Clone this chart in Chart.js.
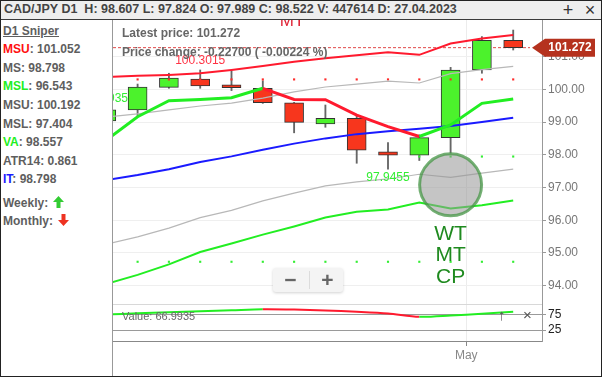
<!DOCTYPE html>
<html>
<head>
<meta charset="utf-8">
<title>CAD/JPY D1</title>
<script src="https://cdn.jsdelivr.net/npm/chart.js@4.4.1/dist/chart.umd.min.js"></script>
<style>
  html, body { margin: 0; padding: 0; background: #fff; }
  #frame { position: relative; width: 602px; height: 377px; overflow: hidden; background: #fff;
           font-family: "Liberation Sans", Arial, sans-serif; }
  #outline { position: absolute; left: 0; top: 0; width: 600px; height: 375px; border: 1px solid #222;
             pointer-events: none; z-index: 20; }
  #header { position: absolute; left: 0; top: 0; width: 602px; height: 19px; background: #eeeeee;
            border-bottom: 1px solid #3a3a3a; }
  #title { position: absolute; left: 4px; top: 2px; font-size: 12.5px; font-weight: bold; color: #444; white-space: pre; }
  .hbtn { position: absolute; top: 0; width: 16px; text-align: center; font-size: 18px; line-height: 20px; color: #333; }
  #side { position: absolute; left: 0; top: 20px; width: 113px; height: 357px; border-right: 1px solid #999;
          box-sizing: border-box; padding-top: 1.7px; }
  .row { margin-left: 3px; font-size: 12px; line-height: 18.6px; font-weight: bold; color: #5e5e5e; white-space: nowrap; }
  .row svg { vertical-align: -1px; margin-left: 2px; }
  #chart { position: absolute; left: 113px; top: 20px; }
  .info { position: absolute; left: 122px; font-size: 12px; line-height: 14px; font-weight: bold; color: #666; white-space: pre; z-index: 5; }
  #valueTxt { position: absolute; left: 122px; top: 310px; font-size: 11px; line-height: 13px; color: #666; z-index: 5; }
  .pbtn { position: absolute; top: 307px; font-size: 15px; line-height: 16px; color: #555; z-index: 5; }
  #zoomBox { position: absolute; left: 273px; top: 268px; width: 70px; height: 24px; background: #f4f4f4;
             border-radius: 3px; box-shadow: 0 1px 3px rgba(0,0,0,0.18); z-index: 5; }
  #zoomBox .zb { position: absolute; top: 0; width: 35px; text-align: center; font-size: 21px; line-height: 23px;
                 font-weight: bold; color: #666; }
  #zoomBox .sep { position: absolute; left: 36px; top: 3px; width: 1px; height: 18px; background: #dcdcdc; }
</style>
</head>
<body>
<div id="frame">
  <div id="header">
    <div id="title"></div>
    <span class="hbtn" style="left:560px">+</span>
    <span class="hbtn" style="left:582px">&#215;</span>
  </div>
  <div id="side"></div>
  <canvas id="chart" width="487" height="356"></canvas>
  <div class="info" id="latestTxt" style="top:26px"></div>
  <div class="info" id="changeTxt" style="top:45px"></div>
  <div id="valueTxt"></div>
  <span class="pbtn" style="left:498px">&#8593;</span>
  <span class="pbtn" style="left:523px">&#215;</span>
  <div id="zoomBox"><span class="zb" style="left:0">&#8722;</span><span class="sep"></span><span class="zb" style="left:37px">+</span></div>
  <div id="outline"></div>
</div>

<script>
// ---- data ----
const symbol = "CAD/JPY";
const timeframe = "D1";
const candleIdx = [0, 1, 2, 3, 4, 5, 6, 7, 8, 9, 10, 11, 12, 13];
const openVals  = [99.03, 99.37, 100.06, 100.31, 100.14, 100.03, 99.59, 98.94, 99.11, 98.09, 97.989, 98.52, 100.59, 101.499];
const highVals  = [99.45, 100.16, 100.49, 100.59, 100.56, 100.26, 99.60, 99.52, 99.21, 98.37, 98.607, 100.67, 101.61, 101.81];
const lowVals   = [98.95, 99.15, 100.03, 100.03, 99.96, 99.57, 98.67, 98.84, 97.74, 97.56, 97.824, 98.05, 100.49, 101.20];
const closeVals = [99.37, 100.07, 100.34, 100.10, 100.05, 99.59, 98.99, 99.11, 98.14, 97.99, 98.522, 100.59, 101.499, 101.272];
const volume = 447614;
const dateText = "27.04.2023";
const infoIdx = 10; // candle shown in the header and side panel

// bands
const msuUpper  = [100.38, 100.41, 100.44, 100.49, 100.59, 100.71, 100.84, 100.95, 101.04, 101.13, 101.052, 101.40, 101.55, 101.66];
const msuInner  = [99.15, 99.25, 99.37, 99.49, 99.58, 99.73, 99.92, 100.07, 100.16, 100.25, 100.192, 100.48, 100.60, 100.70];
const msMiddle  = [97.23, 97.38, 97.56, 97.78, 97.95, 98.15, 98.34, 98.50, 98.63, 98.72, 98.798, 98.88, 99.00, 99.13];
const mslInner  = [95.27, 95.49, 95.76, 96.08, 96.30, 96.59, 96.83, 97.05, 97.17, 97.26, 97.404, 97.31, 97.44, 97.56];
const mslLower  = [94.05, 94.33, 94.65, 95.03, 95.29, 95.56, 95.81, 96.08, 96.26, 96.33, 96.543, 96.36, 96.46, 96.60];
const vaLine    = [98.45, 99.16, 99.65, 99.69, 99.74, 100.03, 99.69, 99.68, 99.21, 98.86, 98.557, 98.91, 99.57, 99.70];

// dotted levels
const redLevel = 100.3015;
const redLevelIdx = [0, 1, 2, 3, 4, 5, 6, 7, 8, 9, 10, 11, 12, 13];
const greenLevel = 94.73;
const greenLevelIdx = [0, 1, 2, 3, 4, 5, 6, 7, 8, 9, 10, 11, 12, 13];
const midLevel = 97.9455;
const midLevelIdx = [10, 11, 12, 13];

// price labels on the chart
const levelLabelIdx = [0, 3, 9];
const levelLabelVal = [99.0935, 100.3015, 97.9455];

// marker circle
const circleIdx = 11;
const circleVal = 97.08;
const circleText = ["WT", "MT", "CP"];
const mtLabelIdx = 6;

// oscillator pane
const oscVals = [74, 78, 81.5, 85, 88, 91, 90, 87, 83, 77.5, 66.9935, 71, 77, 83];

// axes
const yTicks = [94, 95, 96, 97, 98, 99, 100, 101];
const y2Ticks = [25, 75];
const xTickPos = [11.5];
const xTickLabels = ["May"];

// side panel values
const sideNames  = ["MSU", "MS", "MSL", "MSU", "MSL", "VA", "ATR14", "IT"];
const sideValues = ["101.052", "98.798", "96.543", "100.192", "97.404", "98.557", "0.861", "98.798"];
const sideColors = ["#ff1010", null, "#22ee22", null, null, "#22ee22", null, "#1a1aff"];

// ---- colours ----
const GREEN = "#22ee22";
const RED = "#ff1a2e";
const BULL = "#4cf22c";
const BEAR = "#f7361d";

// ---- html text ----
const latest = closeVals[closeVals.length - 1];
const lastOpen = openVals[openVals.length - 1];
const chg = latest - lastOpen;

document.getElementById("title").textContent =
  symbol + " " + timeframe + "  H: " + highVals[infoIdx].toFixed(3) + " L: " + lowVals[infoIdx].toFixed(3) +
  " O: " + openVals[infoIdx].toFixed(3) + " C: " + closeVals[infoIdx].toFixed(3) +
  " V: " + volume + " D: " + dateText;
document.getElementById("latestTxt").textContent = "Latest price: " + latest.toFixed(3);
document.getElementById("changeTxt").textContent =
  "Price change: " + chg.toFixed(5) + " ( " + (chg / lastOpen).toFixed(5) + " %)";
document.getElementById("valueTxt").textContent = "Value: " + oscVals[infoIdx].toFixed(4);

const upArrow = '<svg width="11" height="12" viewBox="0 0 11 12"><path d="M5.5 0L11 6H7.5V12H3.5V6H0Z" fill="#33cc33"/></svg>';
const downArrow = '<svg width="11" height="12" viewBox="0 0 11 12"><path d="M5.5 12L11 6H7.5V0H3.5V6H0Z" fill="#ee3322"/></svg>';
let sideHtml = '<div class="row" style="text-decoration:underline">D1 Sniper</div>';
sideNames.forEach((n, i) => {
  const col = sideColors[i] ? ' style="color:' + sideColors[i] + '"' : "";
  sideHtml += '<div class="row"><span' + col + ">" + n + "</span>: " + sideValues[i] + "</div>";
});
sideHtml += '<div class="row" style="margin-top:4.8px">Weekly: ' + upArrow + "</div>";
sideHtml += '<div class="row">Monthly: ' + downArrow + "</div>";
document.getElementById("side").innerHTML = sideHtml;

// ---- chart ----
const pts = (vals) => candleIdx.map((i) => ({ x: i, y: vals[i] }));
const levelPts = (idx, v) => idx.map((i) => ({ x: i, y: v }));

const overlay = {
  id: "overlay",
  beforeDatasetsDraw(chart) {
    const { ctx, chartArea: a, scales: { y, y2 } } = chart;
    ctx.save();
    // pane separator
    ctx.strokeStyle = "#d8d8d8";
    ctx.lineWidth = 1;
    const ys = Math.round(y2.top) + 0.5;
    ctx.beginPath(); ctx.moveTo(a.left, ys); ctx.lineTo(a.right, ys); ctx.stroke();
    // latest price line
    const yp = y.getPixelForValue(latest);
    ctx.strokeStyle = "#e04848";
    ctx.setLineDash([3, 2]);
    ctx.beginPath(); ctx.moveTo(a.left, yp); ctx.lineTo(a.right - 12, yp); ctx.stroke();
    ctx.restore();
  },
  afterDatasetsDraw(chart) {
    const { ctx, chartArea: a, scales: { x, y } } = chart;
    ctx.save();
    ctx.beginPath(); ctx.rect(a.left, a.top, a.right - a.left, a.bottom - a.top); ctx.clip();
    ctx.textAlign = "center";
    ctx.textBaseline = "middle";
    ctx.font = '12px "Liberation Sans", Arial, sans-serif';
    const lblColor = ["#33ee33", "#ff3344", "#33ee33"];
    const lblShift = [-20, -19, 21];
    levelLabelIdx.forEach((i, k) => {
      ctx.fillStyle = lblColor[k];
      ctx.fillText(levelLabelVal[k].toFixed(4), x.getPixelForValue(i), y.getPixelForValue(levelLabelVal[k]) + lblShift[k]);
    });
    // MT tag at the top, mostly hidden under the header
    ctx.font = '17px "Liberation Sans", Arial, sans-serif';
    ctx.fillStyle = "#e02638";
    ctx.textBaseline = "alphabetic";
    ctx.fillText("MT", x.getPixelForValue(mtLabelIdx) - 2, a.top + 6);
    // WT / MT / CP under the circle
    ctx.font = '21px "Liberation Sans", Arial, sans-serif';
    ctx.fillStyle = "#1f8a1f";
    ctx.textBaseline = "middle";
    const cx = x.getPixelForValue(circleIdx);
    const cy = y.getPixelForValue(circleVal);
    circleText.forEach((t, k) => ctx.fillText(t, cx, cy + 49 + k * 21.5));
    ctx.restore();
  },
  afterDraw(chart) {
    const { ctx, chartArea: a, scales: { y } } = chart;
    const yp = y.getPixelForValue(latest);
    ctx.save();
    ctx.fillStyle = "#b5321e";
    ctx.beginPath();
    ctx.moveTo(a.right - 10, yp);
    ctx.lineTo(a.right + 3, yp - 9);
    ctx.lineTo(a.right + 53, yp - 9);
    ctx.lineTo(a.right + 53, yp + 9);
    ctx.lineTo(a.right + 3, yp + 9);
    ctx.closePath();
    ctx.fill();
    ctx.fillStyle = "#fff";
    ctx.font = 'bold 12px "Liberation Sans", Arial, sans-serif';
    ctx.textAlign = "center";
    ctx.textBaseline = "middle";
    ctx.fillText(latest.toFixed(3), a.right + 28, yp + 0.5);
    ctx.restore();
  }
};

Chart.defaults.font.family = '"Liberation Sans", Arial, sans-serif';

const fitY = (s) => { s.width = 58; s.paddingTop = 0; s.paddingBottom = 0; };

new Chart(document.getElementById("chart"), {
  data: {
    datasets: [
      {
        type: "scatter", label: "marker", data: [{ x: circleIdx, y: circleVal }], yAxisID: "y",
        pointRadius: 31, pointHoverRadius: 31, backgroundColor: "rgba(150,150,150,0.55)",
        borderColor: "rgba(70,150,70,0.75)", borderWidth: 3, order: 0
      },
      {
        type: "line", label: "VA", data: pts(vaLine), yAxisID: "y", borderWidth: 3, pointRadius: 0,
        borderColor: GREEN, tension: 0, order: 1,
        segment: { borderColor: (c) => (c.p1.parsed.y < c.p0.parsed.y ? RED : GREEN) }
      },
      { type: "line", label: "MSU", data: pts(msuUpper), yAxisID: "y", borderColor: RED, borderWidth: 2, pointRadius: 0, order: 1 },
      { type: "line", label: "IT", data: pts(msMiddle), yAxisID: "y", borderColor: "#1a1aff", borderWidth: 2, pointRadius: 0, order: 1 },
      { type: "line", label: "MSL", data: pts(mslLower), yAxisID: "y", borderColor: GREEN, borderWidth: 2, pointRadius: 0, order: 1 },
      { type: "line", label: "MSU2", data: pts(msuInner), yAxisID: "y", borderColor: "#b8b8b8", borderWidth: 1.2, pointRadius: 0, order: 2 },
      { type: "line", label: "MSL2", data: pts(mslInner), yAxisID: "y", borderColor: "#b8b8b8", borderWidth: 1.2, pointRadius: 0, order: 2 },
      {
        type: "line", label: "osc", data: pts(oscVals), yAxisID: "y2", borderWidth: 2, pointRadius: 0,
        borderColor: GREEN, tension: 0.3, order: 1,
        segment: { borderColor: (c) => (c.p1.parsed.y < c.p0.parsed.y ? RED : GREEN) }
      },
      {
        type: "line", label: "lvlR", data: levelPts(redLevelIdx, redLevel), yAxisID: "y", showLine: false,
        pointStyle: "rect", pointRadius: 1.5, backgroundColor: "#ff2a2a", borderWidth: 0, order: 3
      },
      {
        type: "line", label: "lvlG", data: levelPts(greenLevelIdx, greenLevel), yAxisID: "y", showLine: false,
        pointStyle: "rect", pointRadius: 1.5, backgroundColor: "#33ee33", borderWidth: 0, order: 3
      },
      {
        type: "line", label: "lvlM", data: levelPts(midLevelIdx, midLevel), yAxisID: "y", showLine: false,
        pointStyle: "rect", pointRadius: 1.5, backgroundColor: "#33ee33", borderWidth: 0, order: 3
      },
      {
        type: "bar", label: "body", yAxisID: "y",
        data: candleIdx.map((i) => ({ x: i, y: [openVals[i], closeVals[i]] })),
        backgroundColor: candleIdx.map((i) => (closeVals[i] >= openVals[i] ? BULL : BEAR)),
        borderColor: "#333", borderWidth: 1, borderSkipped: false, barThickness: 19, grouped: false, order: 4
      },
      {
        type: "bar", label: "wick", yAxisID: "y",
        data: candleIdx.map((i) => ({ x: i, y: [lowVals[i], highVals[i]] })),
        backgroundColor: "#666", borderWidth: 0, barThickness: 1.2, grouped: false, order: 5
      }
    ]
  },
  options: {
    responsive: false,
    animation: false,
    layout: { autoPadding: false, padding: 0 },
    plugins: { legend: { display: false }, tooltip: { enabled: false } },
    scales: {
      x: {
        type: "linear", min: 0.214, max: 13.92, offset: false,
        grid: { color: "#ececec", tickColor: "#888", tickLength: 5, offset: false },
        border: { color: "#888" },
        ticks: { color: "#888", font: { size: 12 }, padding: 2, maxRotation: 0,
                 callback: (v, i) => xTickLabels[i] },
        afterBuildTicks: (s) => { s.ticks = xTickPos.map((v) => ({ value: v })); },
        afterFit: (s) => { s.height = 35; s.paddingLeft = 0; s.paddingRight = 0; }
      },
      y: {
        position: "right", stack: "pane", stackWeight: 284,
        min: 93.44, max: 102.117,
        grid: { color: "#efefef", tickColor: "#999", tickLength: 4 },
        border: { color: "#999" },
        ticks: { color: "#777", font: { size: 12 }, padding: 2, callback: (v) => Number(v).toFixed(2) },
        afterBuildTicks: (s) => { s.ticks = yTicks.map((v) => ({ value: v })); },
        afterFit: fitY
      },
      y2: {
        position: "right", stack: "pane", stackWeight: 37,
        min: -10, max: 107.8,
        grid: { color: "#9a9a9a", tickColor: "#999", tickLength: 4 },
        border: { color: "#999" },
        ticks: { color: "#222", font: { size: 12 }, padding: 2 },
        afterBuildTicks: (s) => { s.ticks = y2Ticks.map((v) => ({ value: v })); },
        afterFit: fitY
      }
    }
  },
  plugins: [overlay]
});
</script>
</body>
</html>
